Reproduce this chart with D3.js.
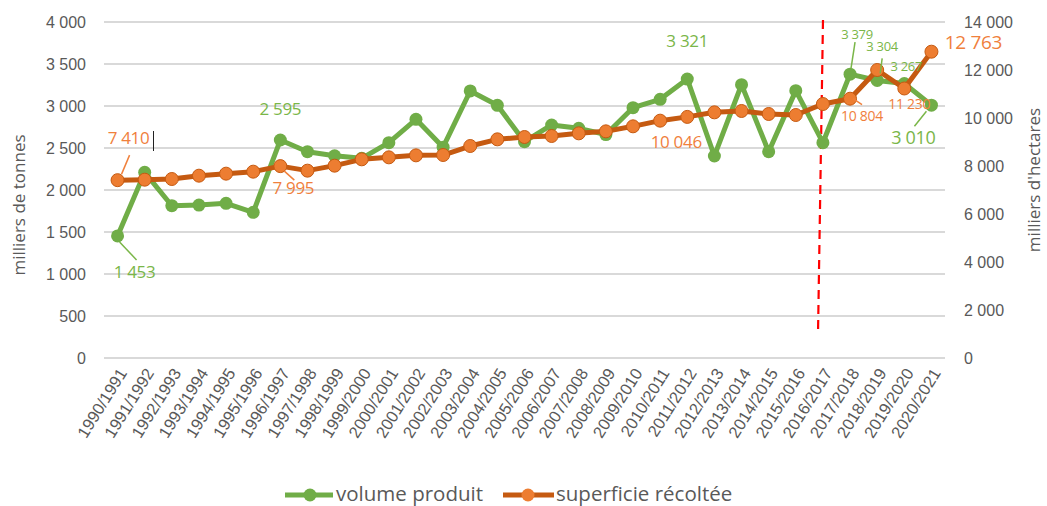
<!DOCTYPE html>
<html><head><meta charset="utf-8">
<script src="https://cdn.jsdelivr.net/npm/d3@7"></script>
<style>body{margin:0;background:#fff}svg{display:block;font-family:"Open Sans",sans-serif}</style>
</head><body>
<svg id="c" width="1047" height="506"></svg>
<script>
const categories = ["1990/1991","1991/1992","1992/1993","1993/1994","1994/1995","1995/1996","1996/1997","1997/1998","1998/1999","1999/2000","2000/2001","2001/2002","2002/2003","2003/2004","2004/2005","2005/2006","2006/2007","2007/2008","2008/2009","2009/2010","2010/2011","2011/2012","2012/2013","2013/2014","2014/2015","2015/2016","2016/2017","2017/2018","2018/2019","2019/2020","2020/2021"];
const volumeProduit = [1453,2210,1813,1821,1841,1734,2595,2456,2408,2377,2563,2841,2510,3179,3008,2575,2774,2734,2660,2980,3079,3321,2405,3254,2456,3183,2563,3379,3304,3267,3010];
const superficieRecoltee = [7410,7430,7458,7597,7681,7764,7995,7806,8014,8278,8361,8444,8458,8833,9111,9208,9250,9361,9444,9653,9889,10046,10236,10292,10167,10125,10583,10804,12000,11230,12763];
const leftTicks = [0,500,1000,1500,2000,2500,3000,3500,4000];
const rightTicks = [0,2000,4000,6000,8000,10000,12000,14000];
const seriesNames = ["volume produit","superficie récoltée"];
// labelled points: [index, text]
const volumeLabels = [[0,"1 453"],[6,"2 595"],[21,"3 321"],[27,"3 379"],[28,"3 304"],[29,"3 267"],[30,"3 010"]];
const superficieLabels = [[0,"7 410"],[6,"7 995"],[21,"10 046"],[27,"10 804"],[29,"11 230"],[30,"12 763"]];

const GREEN="#70ad47", ORANGE_LINE="#c55a11", ORANGE_PT="#ed7d31", GL="#7ab648", OL="#f0803c", TXT="#595959";
const svg = d3.select("#c");
const x = d3.scaleBand().domain(categories).range([104,945]);
const cx = d => x(d)+x.bandwidth()/2;
const yL = d3.scaleLinear().domain([0,4000]).range([358,22]);
const yR = d3.scaleLinear().domain([0,14000]).range([358,22]);
const fmt = v => d3.format(",")(v).replace(/,/g," ");

// grid
svg.append("g").selectAll("line").data(leftTicks).join("line")
  .attr("x1",104).attr("x2",945).attr("y1",d=>yL(d)).attr("y2",d=>yL(d))
  .attr("stroke","#d9d9d9").attr("stroke-width",2);

// left axis
const ax = d3.axisLeft(yL).tickValues(leftTicks).tickFormat(fmt).tickSize(0).tickPadding(0);
const gL = svg.append("g").attr("transform","translate(86,0)").call(ax);
gL.select(".domain").remove();
gL.selectAll("text").attr("fill",TXT).style("font-size","16px").attr("dy","0.35em");
const axR = d3.axisRight(yR).tickValues(rightTicks).tickFormat(fmt).tickSize(0).tickPadding(0);
const gR = svg.append("g").attr("transform","translate(964,0)").call(axR);
gR.select(".domain").remove();
gR.selectAll("text").attr("fill",TXT).style("font-size","16px").attr("dy","0.35em");

// x labels
const axB = d3.axisBottom(x).tickSize(0).tickPadding(0);
const gB = svg.append("g").attr("transform","translate(0,358)").call(axB);
gB.select(".domain").remove();
gB.selectAll("text").attr("fill",TXT).style("font-size","16.5px")
  .attr("text-anchor","end").attr("dy",0).attr("y",0)
  .attr("transform","translate(10,15) rotate(-58)");

// axis titles
svg.append("text").attr("transform","translate(25,205) rotate(-90)").attr("text-anchor","middle")
  .attr("fill",TXT).style("font-size","17px").text("milliers de tonnes");
svg.append("text").attr("transform","translate(1040,180) rotate(-90)").attr("text-anchor","middle")
  .attr("fill",TXT).style("font-size","17px").text("milliers d'hectares");

// red dashed line
svg.append("line").attr("x1",823).attr("y1",20).attr("x2",818).attr("y2",334)
  .attr("stroke","#ff0000").attr("stroke-width",2.2).attr("stroke-dasharray","9,6");

// series
const lineV = d3.line().x((d,i)=>cx(categories[i])).y(d=>yL(d));
const lineS = d3.line().x((d,i)=>cx(categories[i])).y(d=>yR(d));
svg.append("path").datum(volumeProduit).attr("d",lineV).attr("fill","none").attr("stroke",GREEN).attr("stroke-width",5).attr("stroke-linejoin","round");
svg.append("g").selectAll("circle").data(volumeProduit).join("circle")
  .attr("cx",(d,i)=>cx(categories[i])).attr("cy",d=>yL(d)).attr("r",6.5).attr("fill",GREEN);
svg.append("path").datum(superficieRecoltee).attr("d",lineS).attr("fill","none").attr("stroke",ORANGE_LINE).attr("stroke-width",5).attr("stroke-linejoin","round");
svg.append("g").selectAll("circle").data(superficieRecoltee).join("circle")
  .attr("cx",(d,i)=>cx(categories[i])).attr("cy",d=>yR(d)).attr("r",6.5).attr("fill",ORANGE_PT).attr("stroke",ORANGE_LINE).attr("stroke-width",1);

// data labels (offsets relative to point)
const vOff = {0:{dx:17,dy:36,fs:17,lead:[[2,6],[19,24]]},6:{dx:0,dy:-31,fs:17},21:{dx:0,dy:-38,fs:17},
  27:{dx:7,dy:-40,fs:13,lead:[[5,-32],[1,-6]]},28:{dx:5,dy:-34,fs:13,lead:[[5,-22],[3,-7]]},
  29:{dx:2,dy:-17,fs:13},30:{dx:-18,dy:33,fs:18,lead:[[-5,6],[-17,21]]}};
const sOff = {0:{dx:11,dy:-42,fs:17,lead:[[12,-25],[4,-6]]},6:{dx:13,dy:22,fs:17,lead:[[4,5],[14,14]]},
  21:{dx:-11,dy:25,fs:17},27:{dx:12,dy:17,fs:14,lead:[[3,0],[12,6]]},29:{dx:5,dy:16,fs:14},30:{dx:42,dy:-9,fs:19}};
function labels(list, offs, sc, vals, col){
  list.forEach(([i,t])=>{
    const o=offs[i], px=cx(categories[i]), py=sc(vals[i]);
    if(o.lead) svg.append("line").attr("x1",px+o.lead[0][0]).attr("y1",py+o.lead[0][1])
      .attr("x2",px+o.lead[1][0]).attr("y2",py+o.lead[1][1]).attr("stroke",col).attr("stroke-width",1.5);
    svg.append("text").attr("x",px+o.dx).attr("y",py+o.dy).attr("text-anchor","middle").attr("dy","0.35em")
      .attr("fill",col).style("font-size",o.fs+"px").style("letter-spacing","-0.3px").text(t);
  });
}
labels(volumeLabels, vOff, yL, volumeProduit, GL);
labels(superficieLabels, sOff, yR, superficieRecoltee, OL);
// stray text cursor mark next to 7 410
svg.append("line").attr("x1",153.5).attr("x2",153.5).attr("y1",131).attr("y2",151).attr("stroke","#222").attr("stroke-width",1);

// legend
const lg = svg.append("g");
[[285,333,310,GREEN,GREEN,336],[503,554,528,ORANGE_LINE,ORANGE_PT,556]].forEach((l,k)=>{
  lg.append("line").attr("x1",l[0]).attr("x2",l[1]).attr("y1",495).attr("y2",495).attr("stroke",l[3]).attr("stroke-width",5);
  lg.append("circle").attr("cx",l[2]).attr("cy",495).attr("r",6.5).attr("fill",l[4]);
  lg.append("text").attr("x",l[5]).attr("y",494).attr("dy","0.35em").attr("fill",TXT).style("font-size","20.5px").text(seriesNames[k]);
});
</script>
</body></html>
